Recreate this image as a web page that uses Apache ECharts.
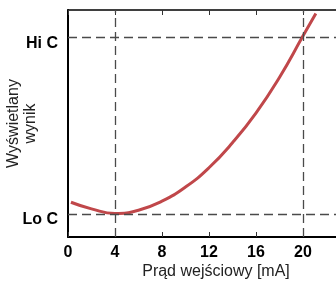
<!DOCTYPE html>
<html>
<head>
<meta charset="utf-8">
<script src="https://cdn.jsdelivr.net/npm/echarts@6/dist/echarts.min.js"></script>
<style>
  html, body { margin: 0; padding: 0; background: #fff; }
  #chart { width: 336px; height: 282px; }
</style>
</head>
<body>
<div id="chart"></div>
<script>
// curve (x in mA, y in arbitrary display units 0..100)
const curveX = [0.25, 2, 4, 6, 8, 10, 12, 14, 16, 18, 20, 21.1];
const curveY = [15.3, 12.4, 10.4, 11.8, 15.8, 22.0, 30.5, 41.5, 54.6, 70.3, 88.5, 98.5];

// reference levels on the y axis
const levelNames = ['Lo C', 'Hi C'];
const levelValues = [10.1, 88];

// vertical reference currents
const markX = [4, 20];

const font = "'Liberation Sans', Arial, sans-serif";

const chart = echarts.init(document.getElementById('chart'), null, { renderer: 'canvas' });

const dashed = { color: '#4a4a4a', width: 1.3, type: [9, 5] };

chart.setOption({
  animation: false,
  textStyle: { fontFamily: font },
  grid: { left: 68, top: 10, right: -28, bottom: 45, containLabel: false, outerBoundsMode: 'none' },
  xAxis: [
    {
      type: 'value', position: 'bottom', min: 0, max: 25.2, interval: 4,
      name: 'Prąd wejściowy [mA]', nameLocation: 'middle', nameGap: 27, nameMoveOverlap: false,
      nameTextStyle: { fontFamily: font, fontSize: 16, color: '#222' },
      axisLine: { show: true, lineStyle: { color: '#000', width: 2 } },
      axisTick: { show: true, inside: true, length: 5, lineStyle: { color: '#333', width: 1 } },
      axisLabel: { fontFamily: font, fontSize: 16, fontWeight: 'bold', color: '#000', margin: 8, showMaxLabel: false },
      splitLine: { show: false }
    },
    {
      type: 'value', position: 'top', min: 0, max: 25.2, interval: 4,
      axisLine: { show: true, lineStyle: { color: '#000', width: 1.5 } },
      axisTick: { show: true, inside: true, length: 5, lineStyle: { color: '#333', width: 1 } },
      axisLabel: { show: false },
      splitLine: { show: false }
    }
  ],
  yAxis: {
    type: 'value', min: 0, max: 100,
    name: 'Wyświetlany\nwynik', nameLocation: 'middle', nameRotate: 90, nameGap: 29, nameMoveOverlap: false,
    nameTextStyle: { fontFamily: font, fontSize: 16, lineHeight: 17, color: '#222' },
    axisLine: { show: true, lineStyle: { color: '#000', width: 2 } },
    axisTick: { show: false },
    splitLine: { show: false },
    axisLabel: {
      customValues: levelValues,
      fontFamily: font, fontSize: 16, fontWeight: 'bold', color: '#000',
      margin: 10, verticalAlign: 'top', lineHeight: 12,
      formatter: v => levelNames[levelValues.indexOf(v)] || ''
    }
  },
  series: [
    {
      type: 'line',
      data: curveX.map((x, i) => [x, curveY[i]]),
      smooth: true,
      showSymbol: false,
      lineStyle: { color: '#c0474a', width: 3 },
      z: 3,
      markLine: {
        silent: true,
        symbol: 'none',
        label: { show: false },
        lineStyle: dashed,
        data: [
          ...levelValues.map(v => ({ yAxis: v })),
          ...markX.map(v => ({ xAxis: v }))
        ]
      }
    }
  ]
});
</script>
</body>
</html>
